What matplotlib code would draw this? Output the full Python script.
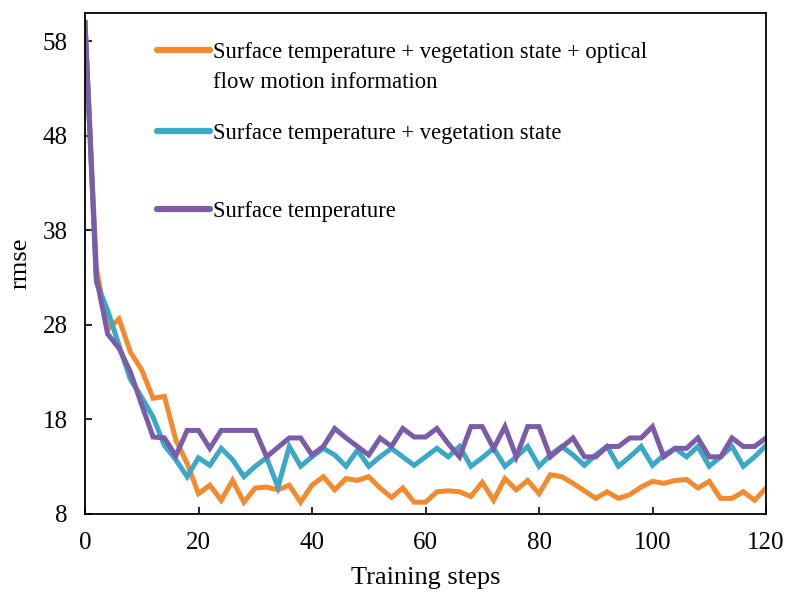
import matplotlib
matplotlib.use("Agg")
import matplotlib.pyplot as plt
import numpy as np

steps = list(range(0, 121, 2))

orange_vals = [60, 34, 27.5, 28.6, 25.1, 23.2, 20.2, 20.4, 15.8, 13.3,
               10.1, 11, 9.4, 11.5, 9.2, 10.7, 10.8, 10.5, 11, 9.2,
               11, 11.9, 10.5, 11.7, 11.5, 11.9, 10.7, 9.7, 10.7, 9.2,
               9.2, 10.3, 10.4, 10.3, 9.8, 11.3, 9.4, 11.7, 10.5, 11.5,
               10.1, 12.1, 11.9, 11.2, 10.4, 9.6, 10.3, 9.6, 10, 10.8,
               11.4, 11.2, 11.5, 11.6, 10.7, 11.4, 9.6, 9.6, 10.3, 9.4, 10.7]

teal_vals = [60, 32.5, 29.5, 25.8, 22.2, 20.3, 18.2, 15.2, 13.7, 11.9,
             13.9, 13.1, 14.9, 13.7, 11.9, 13, 13.9, 10.8, 15.1, 13,
             14, 14.9, 14.2, 13, 14.7, 13, 14, 14.9, 14, 13.1,
             14, 14.9, 14, 15.1, 13, 13.9, 14.9, 13, 14, 15.1,
             13, 14.2, 15.1, 14.2, 13.1, 14.2, 15.1, 13, 14, 15.1,
             13.1, 14.2, 14.9, 14, 15.1, 13, 14, 15.1, 13, 14, 15.2]

purple_vals = [60, 33, 27, 25.5, 23, 19.5, 16.1, 16, 14.1, 16.8,
               16.8, 14.9, 16.8, 16.8, 16.8, 16.8, 14, 15, 16, 16,
               14.2, 15.1, 17, 16, 15.1, 14.2, 16, 15.1, 17, 16.1,
               16.1, 17, 15.4, 14, 17.2, 17.2, 14.9, 17.2, 14, 17.2,
               17.2, 14, 15, 16, 14, 14, 15.1, 15.1, 16, 16,
               17.2, 14, 14.9, 14.9, 16, 14, 14, 16, 15.1, 15.1, 16]

labels = ["Surface temperature + vegetation state + optical\nflow motion information",
          "Surface temperature + vegetation state",
          "Surface temperature"]
colors = ["#F28A30", "#3BA9C6", "#7A5CA8"]

xticks = [0, 20, 40, 60, 80, 100, 120]
yticks = [8, 18, 28, 38, 48, 58]

plt.rcParams['font.family'] = ['Liberation Serif', 'DejaVu Serif']

fig = plt.figure(figsize=(7.9, 5.92), dpi=100)
ax = fig.add_axes([85/790, 1-513.5/592, (766-85)/790, (513.5-13)/592])

for vals, c in zip([orange_vals, teal_vals, purple_vals], colors):
    ax.plot(steps, vals, color=c, lw=3.6, solid_joinstyle='miter')

ax.set_xlim(0, 120)
ax.set_ylim(8, 61)
ax.set_xticks(xticks)
ax.set_yticks(yticks)
ax.tick_params(direction='in', length=5, width=1.2, labelsize=18)
ax.tick_params(axis='x', pad=13)
ax.tick_params(axis='y', pad=12.5)
for s in ax.spines.values():
    s.set_linewidth(1.3)
    s.set_color('black')

ax.set_xlabel("Training steps", fontsize=19, labelpad=10)
ax.set_ylabel("rmse", fontsize=19, labelpad=8)

# legend drawn manually
leg_y = [0.926, 0.764, 0.608]
line_step = 0.06
for lab, c, y in zip(labels, colors, leg_y):
    ax.plot([0.106, 0.1835], [y, y], transform=ax.transAxes, color=c, lw=4.5,
            clip_on=False, solid_capstyle='round')
    for i, part in enumerate(lab.split("\n")):
        ax.text(0.188, y - i * line_step, part, transform=ax.transAxes,
                fontsize=16.3, va='center_baseline', ha='left')

fig.savefig("out.png", dpi=100)
